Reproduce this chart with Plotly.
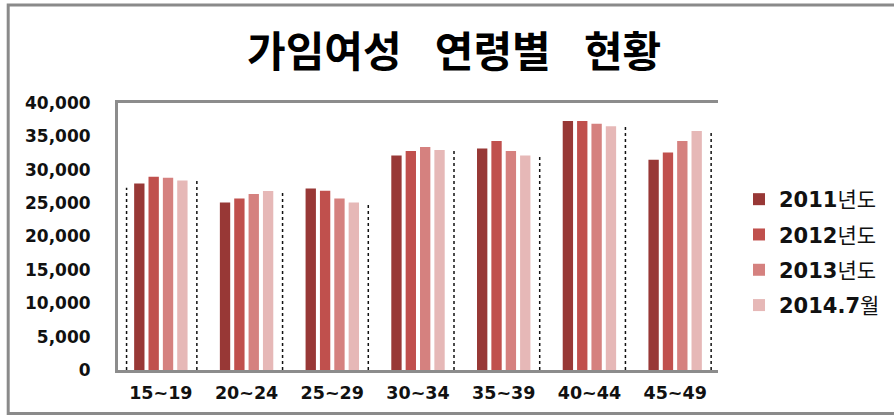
import plotly.graph_objects as go

categories = ["15~19", "20~24", "25~29", "30~34", "35~39", "40~44", "45~49"]
series_names = ["<b>2011</b>년도", "<b>2012</b>년도", "<b>2013</b>년도", "<b>2014.7</b>월"]
v2011 = [27950, 25100, 27200, 32150, 33200, 37300, 31500]
v2012 = [28950, 25700, 26850, 32800, 34300, 37300, 32600]
v2013 = [28800, 26350, 25700, 33400, 32800, 36900, 34300]
v2014 = [28400, 26800, 25100, 32950, 32150, 36500, 35800]
y_ticks = [0, 5000, 10000, 15000, 20000, 25000, 30000, 35000, 40000]

colors = ["#983836", "#C0504D", "#D5817F", "#E6B8B7"]
values = [v2011, v2012, v2013, v2014]

fig = go.Figure()
for i, (name, vals) in enumerate(zip(series_names, values)):
    fig.add_trace(go.Bar(
        x=categories, y=vals, name=name, legendgroup=str(i),
        marker=dict(color=colors[i], line=dict(width=0)),
    ))

# dotted vertical separators (artefacts in the reference)
sep_tops = [27300] + v2014
sep_x = [-0.40] + [k + 0.42 for k in range(len(categories))]
for xs, yt in zip(sep_x, sep_tops):
    fig.add_shape(type="line", xref="x", yref="y", x0=xs, x1=xs, y0=0, y1=yt,
                  line=dict(color="#111111", width=1.5, dash="dot"))

# outer frame
fig.add_shape(type="rect", xref="paper", yref="paper",
              x0=-0.183, x1=1.31, y0=-0.163, y1=1.367,
              line=dict(color="#8a8a8a", width=3), fillcolor="rgba(0,0,0,0)", layer="below")

fig.update_layout(
    width=894, height=417,
    margin=dict(l=118, r=176, t=103, b=47, autoexpand=False),
    paper_bgcolor="white", plot_bgcolor="white",
    barmode="group", bargap=0.33, bargroupgap=0.28,
    title=dict(text="가임여성 \u2002\u200a연령별 \u2002\u200a현황", x=0.508, xanchor="center", y=0.875, yanchor="middle",
               font=dict(family="Noto Sans CJK KR", size=42, color="black", weight="bold")),
    legend=dict(x=1.035, y=0.44, xanchor="left", yanchor="middle",
                font=dict(family="DejaVu Sans, Noto Sans CJK KR", size=21, color="#111111"),
                tracegroupgap=5, itemwidth=30, bgcolor="rgba(0,0,0,0)"),
    showlegend=True,
    font=dict(family="DejaVu Sans", color="#111111"),
)
fig.update_xaxes(showline=True, linecolor="#8c8c8c", linewidth=3, mirror=True, automargin=False,
                 ticks="", showgrid=False, ticklabelstandoff=5,
                 tickfont=dict(family="DejaVu Sans", size=17.5, weight="bold", color="#111111"))
fig.update_yaxes(range=[0, 40000], tickvals=y_ticks, tickformat=",", showgrid=False,
                 showline=True, linecolor="#8c8c8c", linewidth=3, mirror=False, automargin=False,
                 ticks="", ticklabelstandoff=21, zeroline=False,
                 tickfont=dict(family="DejaVu Sans", size=17, weight="bold", color="#111111"))

fig.write_html("out.html", config={"displayModeBar": False},
               post_script="document.body.style.margin='0';document.body.style.overflow='hidden';")
